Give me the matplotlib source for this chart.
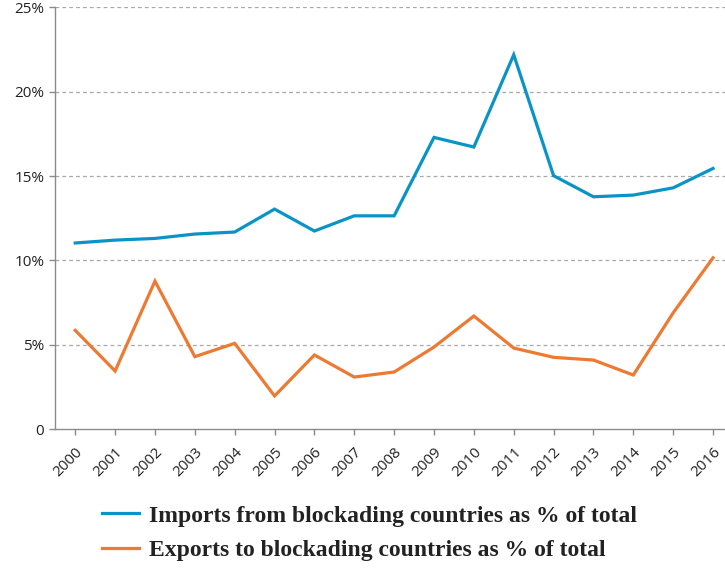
import matplotlib
matplotlib.use("Agg")
import matplotlib.pyplot as plt
from matplotlib.ticker import FuncFormatter

years = list(range(2000, 2017))
imports_share = [11.03, 11.2, 11.3, 11.56, 11.68, 13.04, 11.74, 12.64, 12.64,
                 17.29, 16.72, 22.19, 15.02, 13.77, 13.87, 14.30, 15.45]
exports_share = [5.85, 3.44, 8.77, 4.29, 5.08, 1.96, 4.39, 3.08, 3.38,
                 4.86, 6.70, 4.80, 4.25, 4.09, 3.20, 6.89, 10.15]
series_labels = ["Imports from blockading countries as % of total",
                 "Exports to blockading countries as % of total"]
y_ticks = [0, 5, 10, 15, 20, 25]

blue = "#0a94c6"
orange = "#ec7a32"
axis_grey = "#8a8a8a"

fig = plt.figure(figsize=(7.25, 5.68), dpi=100)
ax = fig.add_axes([0.0763, 0.2447, 0.9237, 0.7423])

ax.plot(years, imports_share, color=blue, lw=2.3, solid_joinstyle="miter",
        label=series_labels[0])
ax.plot(years, exports_share, color=orange, lw=2.3, solid_joinstyle="miter",
        label=series_labels[1])

ax.set_xlim(1999.5, 2016.3)
ax.set_ylim(0, 25)
ax.set_yticks(y_ticks)
ax.yaxis.set_major_formatter(FuncFormatter(lambda v, _: "0" if v == 0 else f"{v:.0f}%"))
ax.set_xticks(years)
ax.set_xticklabels([str(y) for y in years], rotation=45, ha="right",
                   rotation_mode="anchor")

for v in y_ticks[1:]:
    ax.axhline(v, color="#a8a8a8", lw=0.9, ls=(0, (3, 2.5)), zorder=0)

for side in ["top", "right"]:
    ax.spines[side].set_visible(False)
for side in ["left", "bottom"]:
    ax.spines[side].set_color(axis_grey)
    ax.spines[side].set_linewidth(1.0)
ax.tick_params(axis="both", colors=axis_grey, length=4, width=1.0,
               labelcolor="#222222", labelsize=11)
ax.tick_params(axis="x", pad=7)
ax.tick_params(axis="y", pad=4)
for lab in ax.get_xticklabels() + ax.get_yticklabels():
    lab.set_family("Open Sans")

leg = fig.legend(loc="center left", bbox_to_anchor=(0.1403, 0.0616), frameon=False,
                 borderpad=0, borderaxespad=0,
                 handlelength=1.57, handletextpad=0.42, labelspacing=0.55,
                 prop={"family": "Liberation Serif", "weight": "bold", "size": 17})
for t in leg.get_texts():
    t.set_color("#222222")

fig.savefig("out.png", dpi=100)
